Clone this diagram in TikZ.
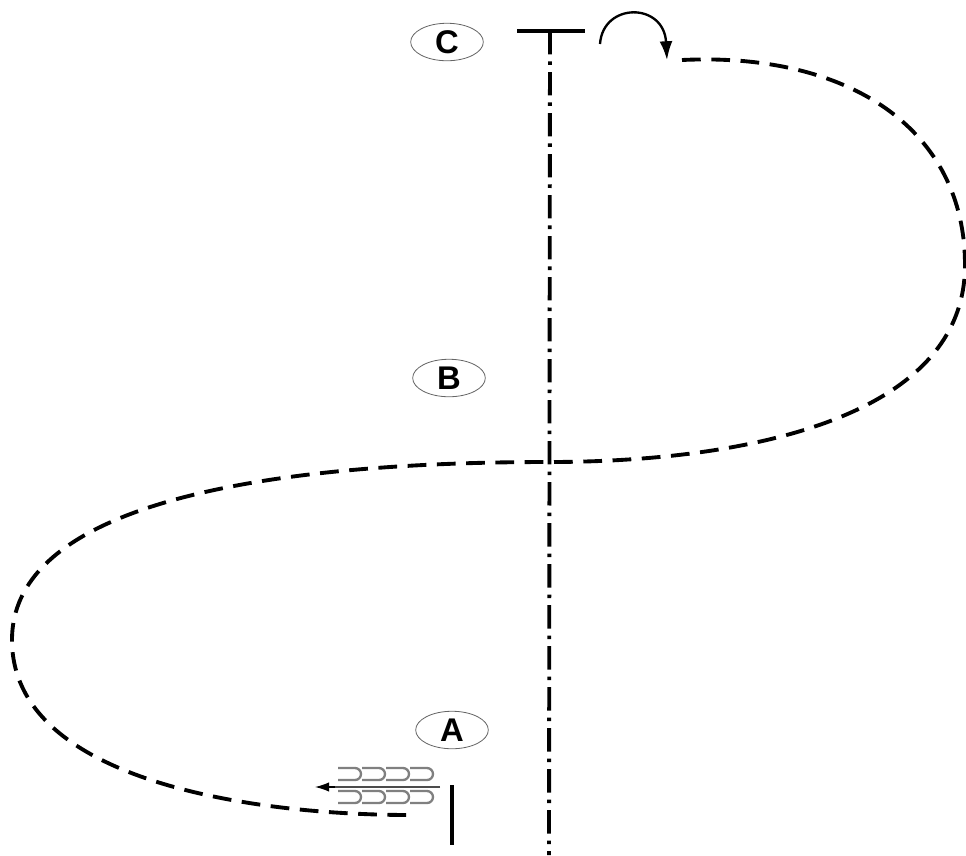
\documentclass[tikz,border=0pt]{standalone}
\usepackage{tikz}
\usepackage{fontspec}
\setsansfont{Liberation Sans}
\usetikzlibrary{calc,arrows,arrows.meta,shapes.geometric}
\tikzset{
  lbl/.style={ellipse,draw=black!60,line width=0.7pt,fill=white,minimum width=62pt,minimum height=32pt,inner sep=0pt,font=\sffamily\bfseries\fontsize{28}{28}\selectfont},
  wire/.style={line width=3.3pt,dash pattern=on 16pt off 9pt},
  axis/.style={line width=3.3pt,dash pattern=on 20pt off 6pt on 3pt off 6pt},
  coil/.style={gray,line width=2pt}
}
\begin{document}
\begin{tikzpicture}[x=0.03cm,y=-0.03cm]
  \useasboundingbox (0,0) rectangle (966,855);
  % labels
  \node[lbl](c)at(447,42){C};
  \node[lbl](b)at(449,378){B};
  \node[lbl](a)at(452,730){A};
  % axis and bars
  \coordinate (top) at (550,31);
  \coordinate (bot) at (549,855);
  \draw[axis] (top)--(bot);
  \draw[line width=3.3pt] (517,31)--(585,31);
  \draw[line width=3.3pt] (452,785)--(452,845);
  % rotation arrow
  \draw[line width=2pt,-{Latex[length=16pt,width=11pt]}] (600,44) .. controls (603,2) and (664,2) .. (667,60);
  % wire
  \coordinate (w0) at (682,60);
  \coordinate (w1) at (965,265);
  \coordinate (x) at (549,462);
  \coordinate (w2) at (12,640);
  \coordinate (w3) at (410,815);
  \draw[wire] (w0) .. controls (850,52) and (965,130) .. (w1)
    .. controls (965,420) and (740,462) .. (x)
    .. controls (360,462) and (12,480) .. (w2)
    .. controls (12,780) and (250,815) .. (w3);
  % stent
  \draw[black!70,line width=2pt] (440,787)--(330,787);
  \draw[-{Latex[length=12pt,width=8pt]},line width=1pt] (335,787)--(315,787);
  \foreach \i in {0,1,2,3}{
    \draw[coil] ($(338,768)+(24*\i,0)$) -- ++(17,0) arc (-90:90:6) -- ++(-17,0);
    \draw[coil] ($(338,791)+(24*\i,0)$) -- ++(17,0) arc (-90:90:6) -- ++(-17,0);
  }
\end{tikzpicture}
\end{document}
